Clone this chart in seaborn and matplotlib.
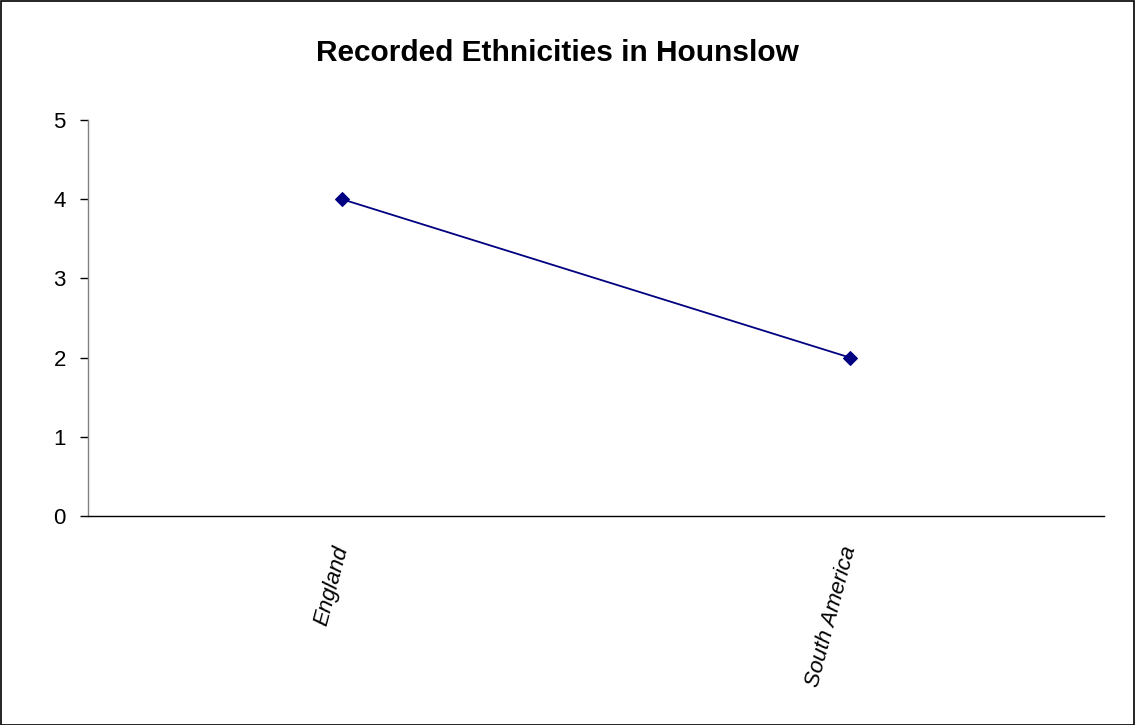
import matplotlib
matplotlib.use("Agg")
import matplotlib.pyplot as plt
import seaborn as sns
import pandas as pd
from matplotlib.ticker import FixedLocator
from matplotlib.patches import Rectangle

categories = ["England", "South America"]
values = [4, 2]
y_ticks = [0, 1, 2, 3, 4, 5]
title = "Recorded Ethnicities in Hounslow"

sns.set_style("white")
plt.rcParams['font.family'] = ['Liberation Sans', 'DejaVu Sans']
plt.rcParams['text.color'] = 'black'
plt.rcParams['xtick.color'] = 'black'
plt.rcParams['ytick.color'] = 'black'

df = pd.DataFrame({"Region": categories, "Count": values})

fig = plt.figure(figsize=(11.35, 7.25), dpi=100)
ax = fig.add_axes([88/1135, 1-516/725, (1104-88)/1135, (516-120)/725])

sns.lineplot(data=df, x="Region", y="Count", ax=ax, color="#000080",
             marker="D", markersize=7, markeredgecolor="#000080", linewidth=1.3,
             sort=False)

ax.set_xlim(-0.5, len(categories) - 0.5)
ax.set_ylim(0, 5)
ax.set_yticks(y_ticks)
ax.set_yticklabels([str(t) for t in y_ticks], fontsize=16, color="black")
ax.set_xticks(range(len(categories)))
ax.set_xticklabels(categories, fontsize=16, style="italic", rotation=75,
                   ha="right", va="center", rotation_mode="anchor", color="black")
ax.xaxis.set_minor_locator(FixedLocator([i - 0.5 for i in range(len(categories) + 1)]))
ax.tick_params(axis="x", which="major", length=0, pad=22)
ax.tick_params(axis="x", which="minor", length=6, direction="out", color="black", width=1)
ax.tick_params(axis="y", length=6, direction="out", color="black", width=1, pad=10, left=True)
ax.set_xlabel("")
ax.set_ylabel("")
for s in ["top", "right"]:
    ax.spines[s].set_visible(False)
ax.spines["left"].set_color("#808080")
ax.spines["bottom"].set_color("black")
ax.spines["left"].set_linewidth(1)
ax.spines["bottom"].set_linewidth(1)

fig.text(557/1135, 1-53/725, title, ha="center", va="center",
         fontsize=21.5, fontweight="bold", color="black")

fig.patches.append(Rectangle((0.5/1135, 0.5/725), 1-1.5/1135, 1-1.5/725,
                             transform=fig.transFigure, fill=False,
                             edgecolor="black", linewidth=1.2))

fig.savefig("out.png", dpi=100)
